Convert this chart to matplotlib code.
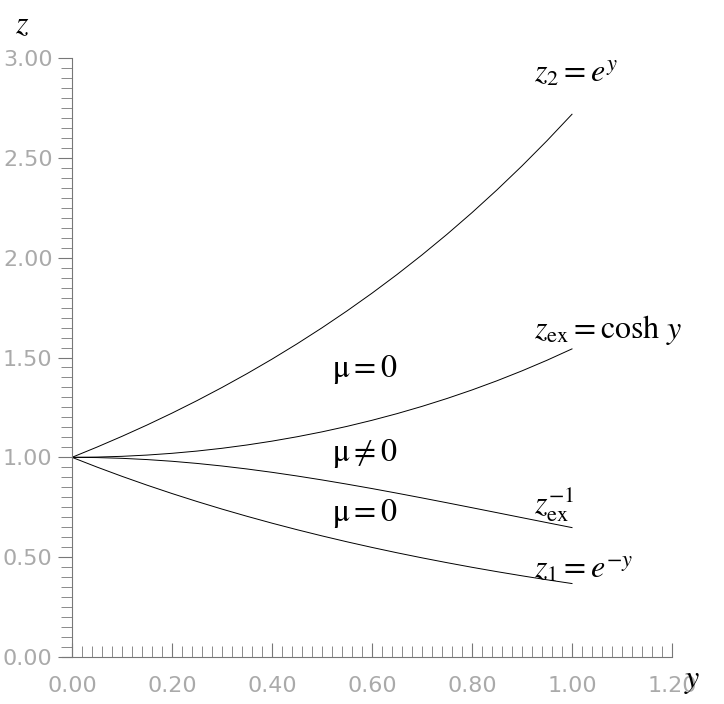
import matplotlib
matplotlib.use("Agg")
import matplotlib.pyplot as plt
from matplotlib.ticker import MultipleLocator

y_vals = [0.0, 0.05, 0.1, 0.15, 0.2, 0.25, 0.3, 0.35, 0.4, 0.45, 0.5, 0.55, 0.6, 0.65, 0.7, 0.75, 0.8, 0.85, 0.9, 0.95, 1.0]
z2 = [1.0, 1.0513, 1.1052, 1.1618, 1.2214, 1.2840, 1.3499, 1.4191, 1.4918, 1.5683, 1.6487,
      1.7333, 1.8221, 1.9155, 2.0138, 2.1170, 2.2255, 2.3396, 2.4596, 2.5857, 2.7183]
zex = [1.0, 1.0013, 1.0050, 1.0113, 1.0201, 1.0314, 1.0453, 1.0619, 1.0811, 1.1030, 1.1276,
       1.1551, 1.1855, 1.2188, 1.2552, 1.2947, 1.3374, 1.3835, 1.4331, 1.4862, 1.5431]
zex_inv = [1.0, 0.9988, 0.9950, 0.9888, 0.9803, 0.9695, 0.9566, 0.9417, 0.9250, 0.9066, 0.8868,
           0.8657, 0.8436, 0.8205, 0.7967, 0.7724, 0.7477, 0.7228, 0.6978, 0.6729, 0.6481]
z1 = [1.0, 0.9512, 0.9048, 0.8607, 0.8187, 0.7788, 0.7408, 0.7047, 0.6703, 0.6376, 0.6065,
      0.5769, 0.5488, 0.5220, 0.4966, 0.4724, 0.4493, 0.4274, 0.4066, 0.3867, 0.3679]

plt.rcParams['mathtext.fontset'] = 'stix'
fig = plt.figure(figsize=(7.24, 7.04), dpi=100)
ax = fig.add_axes([72/724, 47/704, 600/724, 599/704])
for s in (z2, zex, zex_inv, z1):
    ax.plot(y_vals, s, color='black', lw=0.7)
ax.set_xlim(0, 1.2)
ax.set_ylim(0, 3.0)
for sp in ('top', 'right'):
    ax.spines[sp].set_visible(False)
for sp in ('left', 'bottom'):
    ax.spines[sp].set_color('#777777')
ax.spines['bottom'].set_bounds(-0.02, 1.2)
ax.xaxis.set_major_locator(MultipleLocator(0.2))
ax.xaxis.set_minor_locator(MultipleLocator(0.02))
ax.yaxis.set_major_locator(MultipleLocator(0.5))
ax.yaxis.set_minor_locator(MultipleLocator(0.05))
ax.tick_params(axis='x', which='major', direction='in', length=10, color='#777777', labelcolor='#aaaaaa', labelsize=16, pad=14)
ax.tick_params(axis='x', which='minor', direction='in', length=8, color='#777777')
ax.tick_params(axis='y', which='major', direction='out', length=10, color='#777777', labelcolor='#aaaaaa', labelsize=16, pad=4)
ax.tick_params(axis='y', which='minor', direction='out', length=8, color='#777777')
ax.xaxis.set_major_formatter(plt.FuncFormatter(lambda v, p: f"{v:.2f}"))
ax.yaxis.set_major_formatter(plt.FuncFormatter(lambda v, p: f"{v:.2f}"))
fs = 23
ax.text(-0.1, 3.09, r'$z$', fontsize=fs, ha='center', va='bottom')
ax.text(1.24, -0.12, r'$y$', fontsize=fs, ha='center', va='center')
ax.text(0.925, 2.88, r'$z_2 = e^{y}$', fontsize=fs)
ax.text(0.925, 1.60, r'$z_{\rm ex} = \cosh\,y$', fontsize=fs)
ax.text(0.925, 0.72, r'$z_{\rm ex}^{-1}$', fontsize=fs)
ax.text(0.925, 0.40, r'$z_1 = e^{-y}$', fontsize=fs)
ax.text(0.52, 1.40, r'$\mathrm{\mu} = 0$', fontsize=fs)
ax.text(0.52, 0.98, r'$\mathrm{\mu} \neq 0$', fontsize=fs)
ax.text(0.52, 0.68, r'$\mathrm{\mu} = 0$', fontsize=fs)
fig.savefig('out.png', dpi=100)
